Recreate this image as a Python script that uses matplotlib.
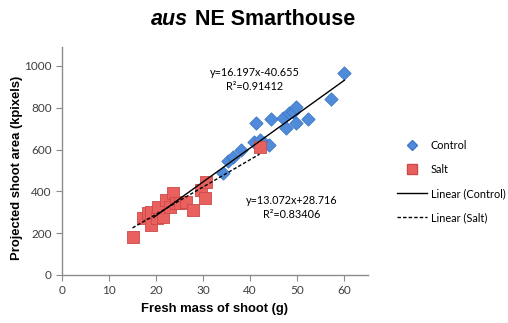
import matplotlib.pyplot as plt
from matplotlib.lines import Line2D

# fresh mass (g) vs projected shoot area (kpixels)
control_mass = [19.5, 34.2, 35.3, 36.3, 38.1, 40.9, 42.0, 43.0, 44.1, 41.3, 44.5,
                46.9, 47.6, 48.3, 49.0, 49.7, 49.7, 52.2, 57.2, 60.0]
control_area = [262, 487, 547, 566, 598, 638, 646, 630, 622, 726, 746,
                750, 702, 775, 781, 805, 726, 746, 842, 968]

salt_mass = [15.0, 17.2, 18.3, 19.0, 19.0, 20.1, 20.4, 21.5, 22.2, 22.9, 23.6,
             24.3, 25.0, 26.4, 27.8, 29.6, 30.3, 30.7, 42.0]
salt_area = [183, 271, 295, 239, 303, 271, 327, 279, 359, 327, 391,
             343, 343, 351, 311, 407, 367, 446, 614]

# trendline coefficients
ctrl_slope, ctrl_icpt, ctrl_r2 = 16.197, -40.655, 0.91412
salt_slope, salt_icpt, salt_r2 = 13.072, 28.716, 0.83406

blue = '#4f8bd9'
red = '#e8615e'
grey_txt = '#404040'

fig = plt.figure(figsize=(5.08, 3.23), dpi=100)
ax = fig.add_axes([0.122, 0.149, 0.602, 0.705])

ax.scatter(control_mass, control_area, marker='D', s=46, color=blue,
           edgecolor='#3d78c8', linewidth=0.6, zorder=3)
ax.scatter(salt_mass, salt_area, marker='s', s=64, color=red,
           edgecolor='#cc4a48', linewidth=0.6, zorder=3)

cx = [min(control_mass), max(control_mass)]
ax.plot(cx, [ctrl_slope * v + ctrl_icpt for v in cx], color='black', lw=1.0, zorder=4)
sx = [min(salt_mass), max(salt_mass)]
ax.plot(sx, [salt_slope * v + salt_icpt for v in sx], color='black', lw=1.0,
        ls=(0, (2.5, 1.5)), zorder=4)

tfont = dict(family='Lato', fontsize=7.8, color='black', ha='center', va='center')
ax.text(40.9, 971, 'y=%.3fx%.3f' % (ctrl_slope, ctrl_icpt), **tfont)
ax.text(40.9, 904, 'R\u00b2=%.5f' % ctrl_r2, **tfont)
ax.text(48.8, 354, 'y=%.3fx+%.3f' % (salt_slope, salt_icpt), **tfont)
ax.text(48.8, 287, 'R\u00b2=%.5f' % salt_r2, **tfont)

ax.set_xlim(0, 65)
ax.set_ylim(0, 1090)
ax.set_xticks(range(0, 61, 10))
ax.set_yticks(range(0, 1001, 200))
for s in ['top', 'right']:
    ax.spines[s].set_visible(False)
for s in ['left', 'bottom']:
    ax.spines[s].set_color('#8c8c8c')
    ax.spines[s].set_linewidth(1.0)
ax.tick_params(direction='out', length=4, color='#8c8c8c', labelcolor=grey_txt,
               labelsize=8.5)
for lbl in ax.get_xticklabels() + ax.get_yticklabels():
    lbl.set_family('Lato')

ax.set_xlabel('Fresh mass of shoot (g)', family='Liberation Sans', fontweight='bold',
              fontsize=9.4, labelpad=5)
ax.set_ylabel('Projected shoot area (kpixels)', family='Liberation Sans',
              fontweight='bold', fontsize=9.4)
ax.yaxis.set_label_coords(-0.127, 0.47)

fig.text(0.370, 0.923, 'aus', family='Liberation Sans', fontweight='bold',
         style='italic', fontsize=15.5, ha='right', va='baseline')
fig.text(0.384, 0.923, 'NE Smarthouse', family='Liberation Sans', fontweight='bold',
         fontsize=15.5, ha='left', va='baseline')

handles = [
    Line2D([], [], ls='none', marker='D', ms=5, color=blue, markeredgecolor='#3d78c8'),
    Line2D([], [], ls='none', marker='s', ms=7, color=red, markeredgecolor='#cc4a48'),
    Line2D([], [], color='black', lw=1.0),
    Line2D([], [], color='black', lw=1.0, ls=(0, (2.5, 1.5))),
]
labels = ['Control', 'Salt', 'Linear (Control)', 'Linear (Salt)']
fig.legend(handles, labels, loc='center left', bbox_to_anchor=(0.772, 0.438),
           borderaxespad=0, frameon=False, prop={'family': 'Lato', 'size': 7.8},
           handlelength=2.85, handletextpad=0.3, labelspacing=1.2)

fig.savefig('out.png', dpi=100)
